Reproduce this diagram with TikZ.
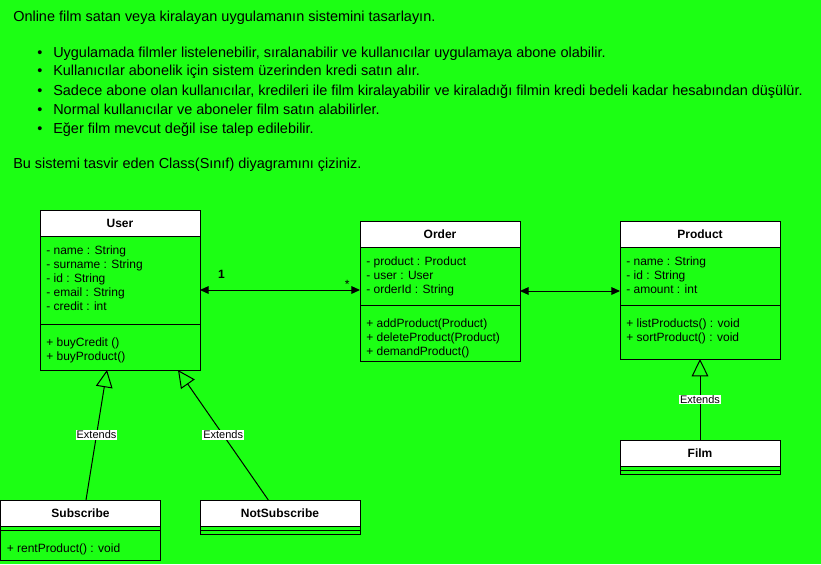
\documentclass[tikz,border=0pt]{standalone}
\usepackage{fontspec}
\setmainfont{Liberation Sans}
\usetikzlibrary{arrows.meta,calc}
\definecolor{bg}{RGB}{28,255,20}
\begin{document}
\begin{tikzpicture}[x=0.75pt,y=-0.75pt,
  classbox/.style={draw, line width=0.75pt, inner sep=0pt, outer sep=0pt, anchor=north west, minimum width=120pt},
  hdr/.style={draw, fill=white, line width=0.75pt},
  sep/.style={line width=0.75pt},
  ttl/.style={font=\fontsize{9}{10.8}\selectfont\bfseries, inner sep=0pt},
  row/.style={font=\fontsize{9}{10.8}\selectfont, inner sep=0pt, anchor=base west},
  ptxt/.style={font=\fontsize{10.85}{13}\selectfont, inner sep=0pt, anchor=base west},
  assoc/.style={line width=0.75pt, {Triangle[length=6.5pt,width=5.8pt]}-{Triangle[length=6.5pt,width=5.8pt]}},
  gen/.style={line width=0.75pt, -{Triangle[open,length=13pt,width=12.5pt]}},
  ext/.style={fill=white, font=\fontsize{8.25}{9.9}\selectfont, inner sep=0.6pt}
]
\fill[bg] (0,0) rectangle (821,564);
\useasboundingbox (0,0) rectangle (821,564);

% ---- task text ----
\node[ptxt] (t0) at (13,21.3) {Online film satan veya kiralayan uygulamanın sistemini tasarlayın.};
\node[ptxt] (b1) at (37,57) {•};
\node[ptxt] (t1) at (53,57) {Uygulamada filmler listelenebilir, sıralanabilir ve kullanıcılar uygulamaya abone olabilir.};
\node[ptxt] (b2) at (37,75.8) {•};
\node[ptxt] (t2) at (53,75.8) {Kullanıcılar abonelik için sistem üzerinden kredi satın alır.};
\node[ptxt] (b3) at (37,95) {•};
\node[ptxt] (t3) at (53,95) {Sadece abone olan kullanıcılar, kredileri ile film kiralayabilir ve kiraladığı filmin kredi bedeli kadar hesabından düşülür.};
\node[ptxt] (b4) at (37,114.3) {•};
\node[ptxt] (t4) at (53,114.3) {Normal kullanıcılar ve aboneler film satın alabilirler.};
\node[ptxt] (b5) at (37,133.4) {•};
\node[ptxt] (t5) at (53,133.4) {Eğer film mevcut değil ise talep edilebilir.};
\node[ptxt] (t6) at (13,168.6) {Bu sistemi tasvir eden Class(Sınıf) diyagramını çiziniz.};

% ---- User ----
\node[classbox, minimum height=120pt] (user) at (40,210) {};
\draw[hdr] (user.north west) rectangle ($(user.north east)+(0,26)$);
\draw[sep] ($(user.north west)+(0,114)$) -- ($(user.north east)+(0,114)$);
\node[ttl] (userT) at ($(user.north)+(0,13)$) {User};
\node[row] (u1) at (46,254) {- name : String};
\node[row] (u2) at (46,268) {- surname : String};
\node[row] (u3) at (46,282) {- id : String};
\node[row] (u4) at (46,296) {- email : String};
\node[row] (u5) at (46,310) {- credit : int};
\node[row] (u6) at (46,346) {+ buyCredit ()};
\node[row] (u7) at (46,360) {+ buyProduct()};

% ---- Order ----
\node[classbox, minimum height=105pt] (order) at (360,221) {};
\draw[hdr] (order.north west) rectangle ($(order.north east)+(0,26)$);
\draw[sep] ($(order.north west)+(0,84)$) -- ($(order.north east)+(0,84)$);
\node[ttl] (orderT) at ($(order.north)+(0,13)$) {Order};
\node[row] (o1) at (366,265) {- product : Product};
\node[row] (o2) at (366,279) {- user : User};
\node[row] (o3) at (366,293) {- orderId : String};
\node[row] (o4) at (366,327) {+ addProduct(Product)};
\node[row] (o5) at (366,341) {+ deleteProduct(Product)};
\node[row] (o6) at (366,355) {+ demandProduct()};

% ---- Product ----
\node[classbox, minimum height=103.5pt] (product) at (620,221) {};
\draw[hdr] (product.north west) rectangle ($(product.north east)+(0,26)$);
\draw[sep] ($(product.north west)+(0,84)$) -- ($(product.north east)+(0,84)$);
\node[ttl] (productT) at ($(product.north)+(0,13)$) {Product};
\node[row] (p1) at (626,265) {- name : String};
\node[row] (p2) at (626,279) {- id : String};
\node[row] (p3) at (626,293) {- amount : int};
\node[row] (p4) at (626,327) {+ listProducts() : void};
\node[row] (p5) at (626,341) {+ sortProduct() : void};

% ---- Subscribe ----
\node[classbox, minimum height=45pt] (sub) at (0.5,500) {};
\draw[hdr] (sub.north west) rectangle ($(sub.north east)+(0,26)$);
\draw[sep] ($(sub.north west)+(0,30)$) -- ($(sub.north east)+(0,30)$);
\node[ttl] (subT) at ($(sub.north)+(0,13)$) {Subscribe};
\node[row] (s1) at (6.5,552) {+ rentProduct() : void};

% ---- NotSubscribe ----
\node[classbox, minimum height=25.5pt] (nsub) at (200,500) {};
\draw[hdr] (nsub.north west) rectangle ($(nsub.north east)+(0,26)$);
\draw[sep] ($(nsub.north west)+(0,30)$) -- ($(nsub.north east)+(0,30)$);
\node[ttl] (nsubT) at ($(nsub.north)+(0,13)$) {NotSubscribe};

% ---- Film ----
\node[classbox, minimum height=25.5pt] (film) at (620,440) {};
\draw[hdr] (film.north west) rectangle ($(film.north east)+(0,26.7)$);
\draw[sep] ($(film.north west)+(0,30.3)$) -- ($(film.north east)+(0,30.3)$);
\node[ttl] (filmT) at ($(film.north)+(0,13.3)$) {Film};

% ---- associations ----
\draw[assoc] (user.east) -- (user.east -| order.west);
\node[row, font=\fontsize{9}{10.8}\selectfont\bfseries] (m1) at (217.8,278) {1};
\node[row] (m2) at (344.6,288) {*};
\draw[assoc] (order.east) -- (order.east -| product.west);

% ---- generalizations ----
\coordinate (subTop) at ($(sub.north west)+(85.5,0)$);
\coordinate (userB1) at ($(user.south west)+(67,0)$);
\coordinate (nsubTop) at ($(nsub.north west)+(68.3,0)$);
\coordinate (userB2) at ($(user.south west)+(138,0)$);
\draw[gen] (subTop) -- (userB1);
\draw[gen] (nsubTop) -- (userB2);
\draw[gen] (film.north) -- (product.south);
\node[ext] (e1) at ($(subTop)!0.5!(userB1)$) {Extends};
\node[ext] (e2) at ($(nsubTop)!0.5!(userB2)$) {Extends};
\node[ext] (e3) at ($(film.north)!0.5!(product.south)$) {Extends};
\end{tikzpicture}
\end{document}
